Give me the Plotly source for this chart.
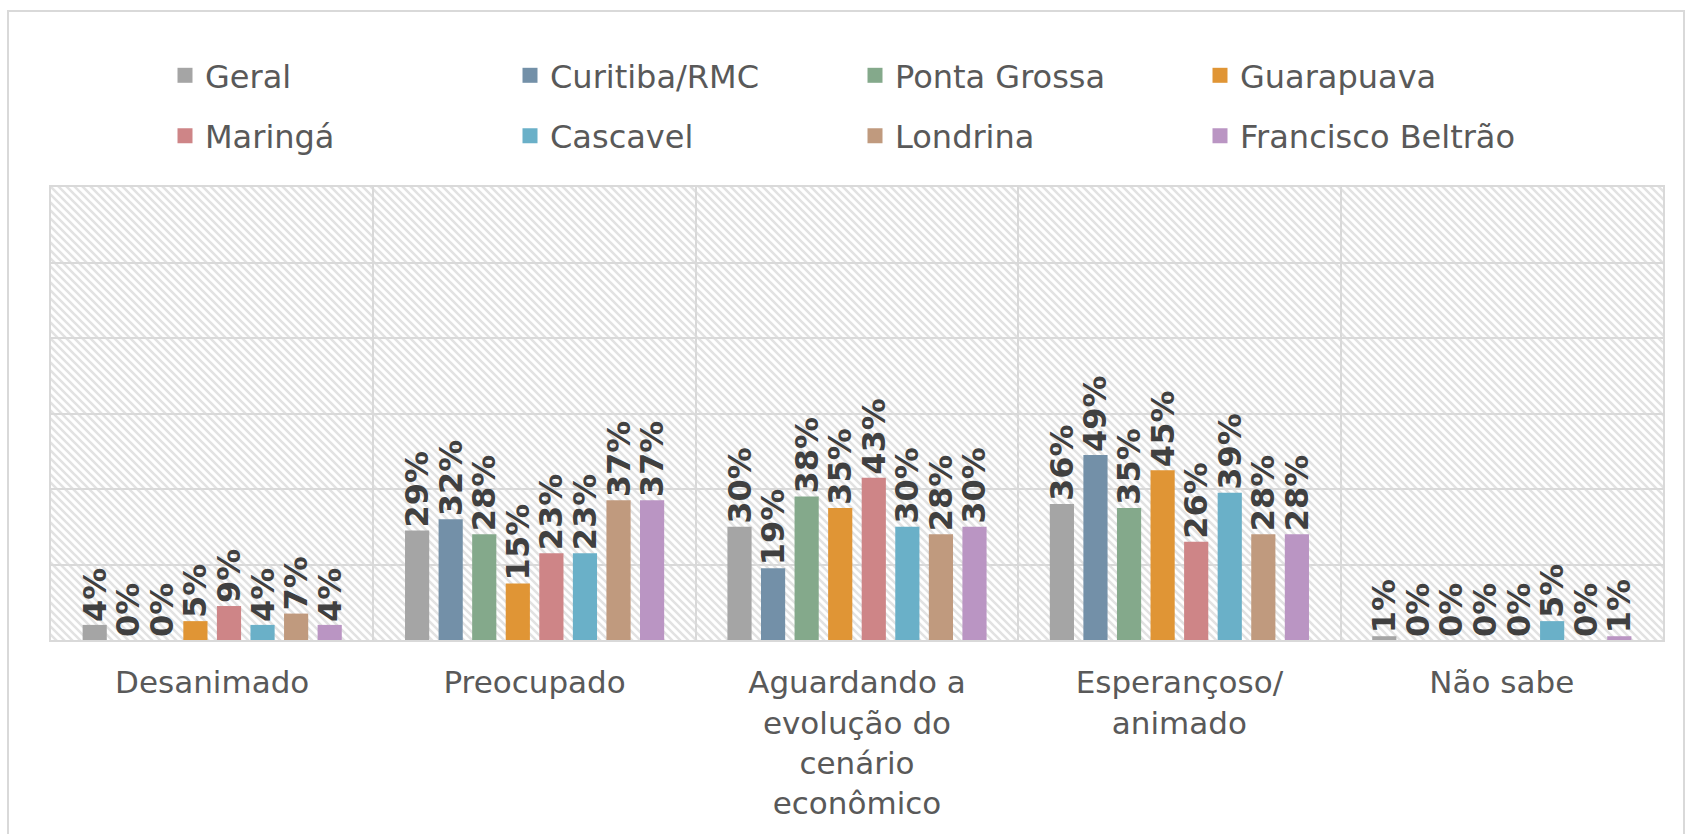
import base64
import plotly.graph_objects as go

categories = ["Desanimado", "Preocupado",
              "Aguardando a<br>evolução do<br>cenário<br>econômico",
              "Esperançoso/<br>animado", "Não sabe"]
series_names = ["Geral", "Curitiba/RMC", "Ponta Grossa", "Guarapuava",
                "Maringá", "Cascavel", "Londrina", "Francisco Beltrão"]
geral = [0.04, 0.29, 0.30, 0.36, 0.01]
curitiba = [0.00, 0.32, 0.19, 0.49, 0.00]
ponta_grossa = [0.00, 0.28, 0.38, 0.35, 0.00]
guarapuava = [0.05, 0.15, 0.35, 0.45, 0.00]
maringa = [0.09, 0.23, 0.43, 0.26, 0.00]
cascavel = [0.04, 0.23, 0.30, 0.39, 0.05]
londrina = [0.07, 0.37, 0.28, 0.28, 0.00]
francisco_beltrao = [0.04, 0.37, 0.30, 0.28, 0.01]
series_values = [geral, curitiba, ponta_grossa, guarapuava, maringa,
                 cascavel, londrina, francisco_beltrao]
colors = ["#a5a5a5", "#7390a8", "#84a98b", "#e09535",
          "#ce8587", "#6ab0c8", "#c09a7e", "#ba95c3"]

W, H = 1691, 834
ML, MR, MT, MB = 51, 28, 187, 194
PW, PH = W - ML - MR, H - MT - MB

fig = go.Figure()
for i, (name, vals, col) in enumerate(zip(series_names, series_values, colors)):
    fig.add_trace(go.Bar(
        x=categories, y=vals, name=name, showlegend=False,
        marker=dict(color=col, line=dict(width=0)),
        texttemplate="%{y:.0%}", textposition="outside", textangle=-90,
        constraintext="none", cliponaxis=False,
        textfont=dict(family="DejaVu Sans", size=32, color="#404040", weight="bold"),
    ))
# legend entries (square swatches)
for i, (name, col) in enumerate(zip(series_names, colors)):
    fig.add_trace(go.Scatter(
        x=[None], y=[None], mode="markers", name=name,
        marker=dict(symbol="square", size=15, color=col),
        legend="legend" if i < 4 else "legend2", hoverinfo="skip",
    ))

# hatch background image
svg = f'''<svg xmlns="http://www.w3.org/2000/svg" width="{PW}" height="{PH}">
<defs><pattern id="p" width="8" height="8" patternUnits="userSpaceOnUse">
<path d="M-2,-2 L10,10 M-2,6 L2,10 M6,-2 L10,2" stroke="#e2e2e2" stroke-width="2.6"/>
</pattern></defs>
<rect width="{PW}" height="{PH}" fill="white"/>
<rect width="{PW}" height="{PH}" fill="url(#p)"/>
</svg>'''
uri = "data:image/svg+xml;base64," + base64.b64encode(svg.encode()).decode()
fig.add_layout_image(dict(source=uri, xref="paper", yref="paper", x=0, y=1,
                          sizex=1, sizey=1, xanchor="left", yanchor="top",
                          sizing="stretch", layer="below"))

# outer chart border
fig.add_shape(type="rect", xref="paper", yref="paper",
              x0=(8 - ML) / PW, x1=(1684 - ML) / PW,
              y0=(H - MB - 850) / PH, y1=(H - MB - 11) / PH,
              line=dict(color="#d9d9d9", width=2), fillcolor="rgba(0,0,0,0)",
              layer="below")

legend_common = dict(orientation="h", xanchor="left", yanchor="middle",
                     font=dict(family="DejaVu Sans", size=32, color="#595959"),
                     entrywidth=300, entrywidthmode="pixels", itemsizing="trace",
                     bgcolor="rgba(0,0,0,0)", itemclick=False)

fig.update_layout(
    width=W, height=H,
    margin=dict(l=ML, r=MR, t=MT, b=MB),
    paper_bgcolor="white", plot_bgcolor="rgba(0,0,0,0)",
    barmode="group", bargap=0.167, bargroupgap=0.28,
    showlegend=True,
    legend=dict(x=(165 - ML) / PW, y=(H - MB - 75.5) / PH, **legend_common),
    legend2=dict(x=(165 - ML) / PW, y=(H - MB - 136) / PH, **legend_common),
    font=dict(family="DejaVu Sans", color="#595959"),
)
fig.update_xaxes(
    type="category", tickson="boundaries", showgrid=True,
    gridcolor="#d9d9d9", gridwidth=2, showline=True, mirror=True,
    linecolor="#d9d9d9", linewidth=2, ticks="",
    tickfont=dict(family="DejaVu Sans", size=31, color="#595959"),
    ticklabelstandoff=14,
)
fig.update_yaxes(
    range=[0, 1.2], dtick=0.2, showgrid=True, gridcolor="#d9d9d9",
    gridwidth=2, showticklabels=False, zeroline=False, showline=True,
    mirror=True, linecolor="#d9d9d9", linewidth=2, ticks="",
)

fig.write_html("out.html", config={"displayModeBar": False},
               post_script="document.body.style.margin='0';")
